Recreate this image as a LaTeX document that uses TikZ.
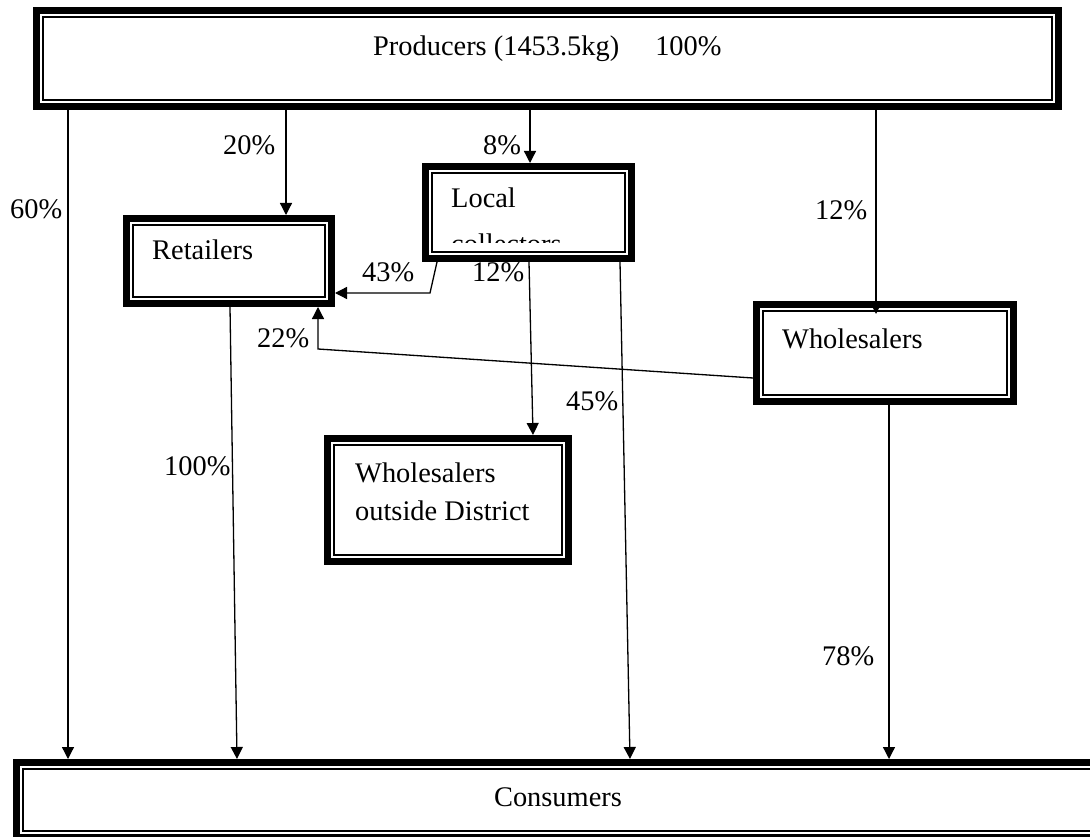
\documentclass[tikz,border=0pt]{standalone}
\usepackage{fontspec}
\setmainfont{Liberation Serif}
\usetikzlibrary{arrows.meta}
\newcommand\chainfont{\fontsize{28.4}{38}\selectfont}

\begin{document}
\begin{tikzpicture}[x=1pt,y=-1pt,
    stage/.style={draw, line width=7pt, inner sep=0pt},
    lbl/.style={font=\chainfont, anchor=base west, inner sep=0pt},
    flow/.style={line width=1.3pt, -{Triangle[width=12pt,length=12pt]}}]
  \useasboundingbox (0,0) rectangle (1090,837);
  % boxes
  \node[stage, minimum width=1022pt, minimum height=96pt] (prod) at (547.5,58.5) {};
  \node[stage, minimum width=205pt, minimum height=85pt] (ret) at (229,261) {};
  \node[stage, minimum width=206pt, minimum height=92pt] (loc) at (528.5,212.5) {};
  \node[stage, minimum width=257pt, minimum height=97pt] (whole) at (885,353) {};
  \node[stage, minimum width=241pt, minimum height=123pt] (outd) at (448,500) {};
  \node[stage, minimum width=1093pt, minimum height=75pt] (cons) at (563,800) {};
  \foreach \n in {prod,ret,loc,whole,outd,cons}
    \draw[line width=1.2pt] ([shift={(10,10)}]\n.north west) rectangle ([shift={(-10,-10)}]\n.south east);

  % box texts
  \node[lbl] (prodtxt) at (373,56) {Producers (1453.5kg)\hspace{36pt}100\%};
  \node[lbl] (rettxt) at (152,259) {Retailers};
  \node[lbl] (loctxt) at (451,208) {Local};
  \begin{scope}
    \clip (420,160) rectangle (640,243);
    \node[lbl] (loctxtb) at (451,254) {collectors};
  \end{scope}
  \node[lbl] (wholetxt) at (782,348) {Wholesalers};
  \node[lbl, align=left] (outdtxt) at (355,520) {Wholesalers\\outside District};
  \node[font=\chainfont, anchor=base, inner sep=0pt] (constxt) at (558,806) {Consumers};

  % columns of the flows
  \coordinate (c60) at (68,0);
  \coordinate (c20) at (286,0);
  \coordinate (c8) at (530,0);
  \coordinate (c12) at (876,0);
  \coordinate (c12e) at (876,314);
  \coordinate (c43) at (437,0);
  \coordinate (k43) at (430,293);
  \coordinate (m12a) at (529,0);
  \coordinate (m12b) at (533,0);
  \coordinate (c45a) at (620,0);
  \coordinate (c45b) at (630,0);
  \coordinate (k22a) at (0,378);
  \coordinate (k22) at (318,349);
  \coordinate (c100a) at (230,0);
  \coordinate (c100b) at (237,0);
  \coordinate (c78) at (889,0);

  % flows
  \draw[flow] (prod.south -| c60) -- (cons.north -| c60);
  \draw[flow] (prod.south -| c20) -- (ret.north -| c20);
  \draw[flow] (prod.south -| c8) -- (loc.north -| c8);
  \draw[flow] (prod.south -| c12) -- (c12e);
  \draw[flow] (loc.south -| c43) -- (k43) -- (ret.east |- k43);
  \draw[flow] (loc.south -| m12a) -- (outd.north -| m12b);
  \draw[flow] (loc.south -| c45a) -- (cons.north -| c45b);
  \draw[flow] (whole.west |- k22a) -- (k22) -- (ret.south -| k22);
  \draw[flow] (ret.south -| c100a) -- (cons.north -| c100b);
  \draw[flow] (whole.south -| c78) -- (cons.north -| c78);

  % shares
  \node[lbl] (s60) at (10,219) {60\%};
  \node[lbl] (s20) at (223,155) {20\%};
  \node[lbl] (s8) at (483,155) {8\%};
  \node[lbl] (s12) at (815,220) {12\%};
  \node[lbl] (s43) at (362,282) {43\%};
  \node[lbl] (s12b) at (472,282) {12\%};
  \node[lbl] (s22) at (257,347) {22\%};
  \node[lbl] (s45) at (566,410) {45\%};
  \node[lbl] (s100) at (164,475) {100\%};
  \node[lbl] (s78) at (822,665) {78\%};
\end{tikzpicture}
\end{document}
